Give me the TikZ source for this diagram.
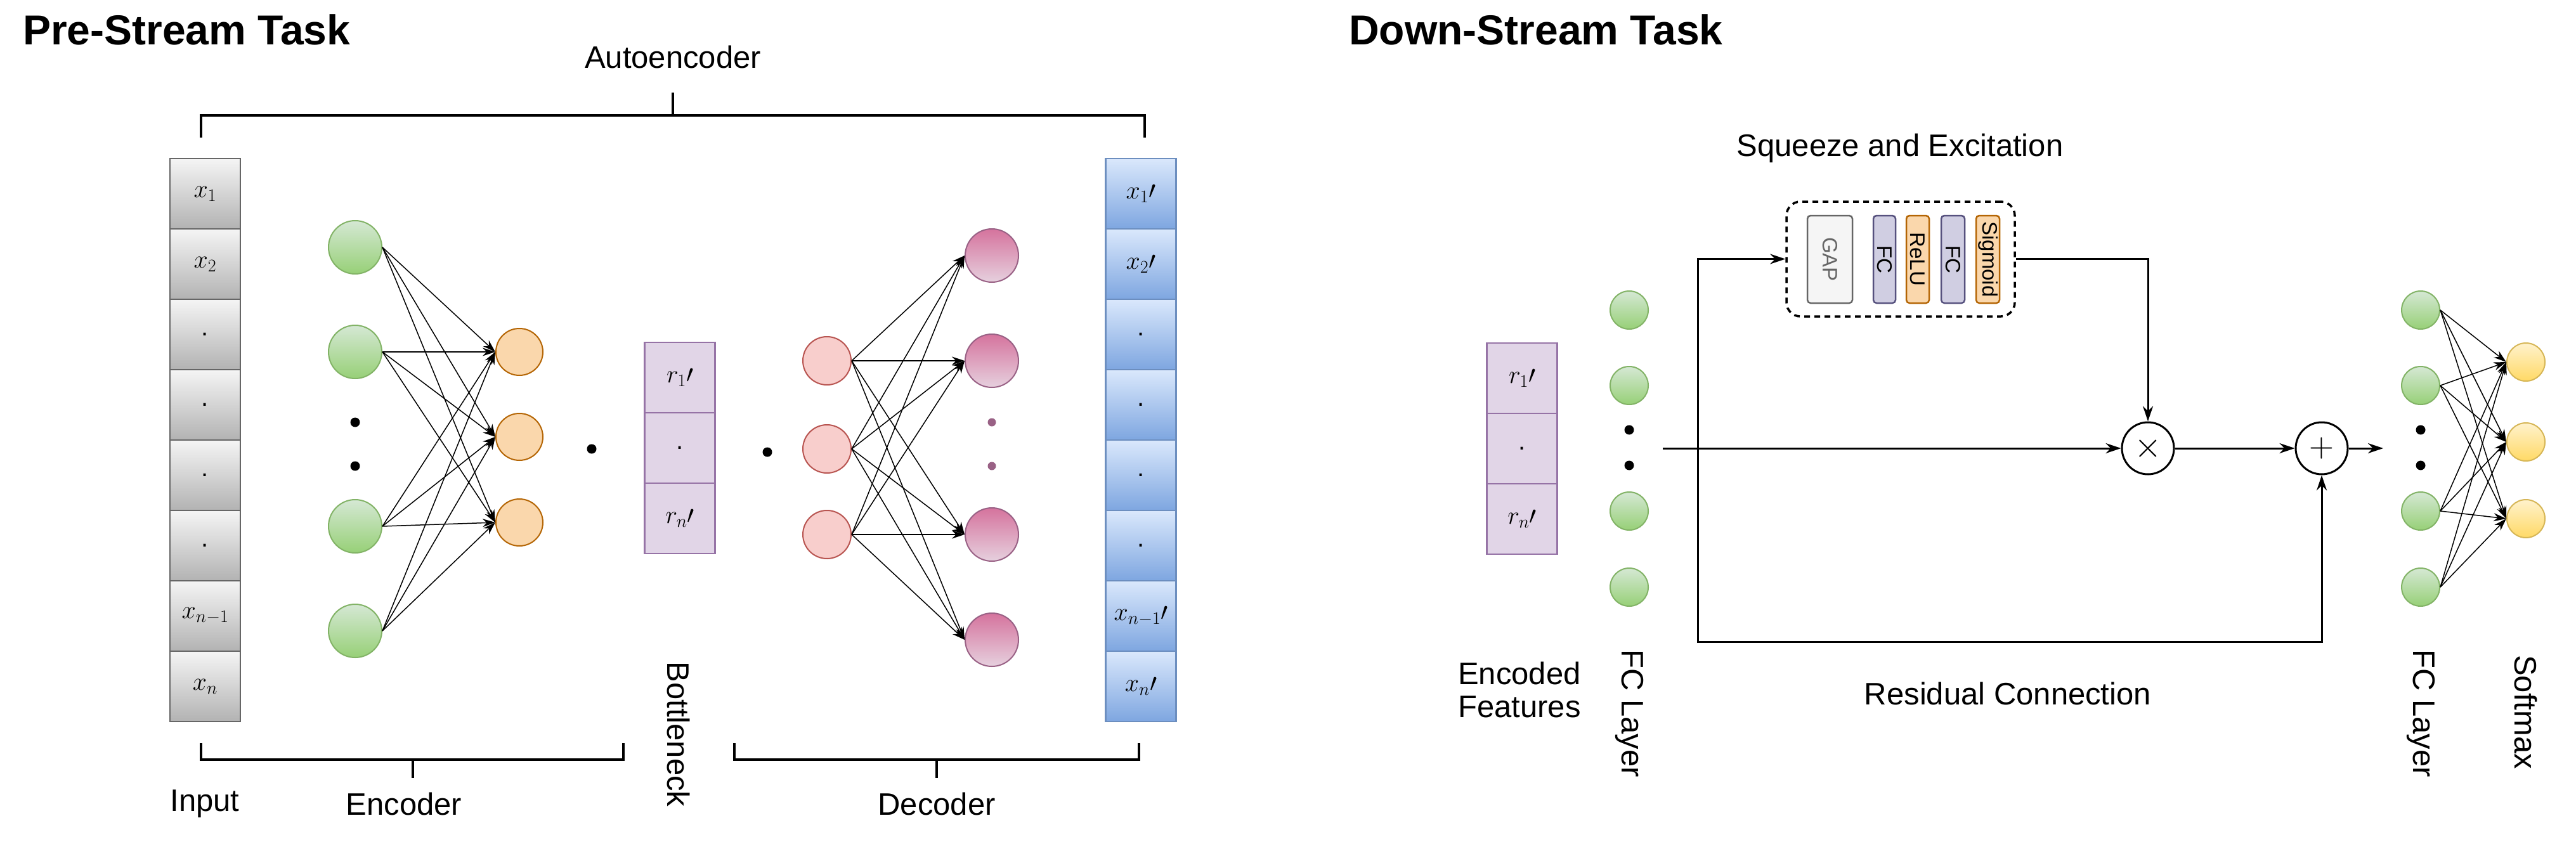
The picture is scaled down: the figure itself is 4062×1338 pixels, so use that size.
\RequirePackage{fix-cm}
\documentclass[tikz,border=0pt]{standalone}
\usepackage{fontspec}
\setmainfont{Liberation Sans}
\usetikzlibrary{arrows.meta}
\definecolor{gS}{HTML}{82B366}\definecolor{gT}{HTML}{D5E8D4}\definecolor{gB}{HTML}{97D077}
\definecolor{oF}{HTML}{FAD7AC}\definecolor{oS}{HTML}{B46504}
\definecolor{pF}{HTML}{F8CECC}\definecolor{pS}{HTML}{B85450}
\definecolor{mT}{HTML}{D5739D}\definecolor{mB}{HTML}{E6D0DE}\definecolor{mS}{HTML}{996185}
\definecolor{vF}{HTML}{E1D5E7}\definecolor{vS}{HTML}{9673A6}
\definecolor{bT}{HTML}{DAE8FC}\definecolor{bB}{HTML}{7EA6E0}\definecolor{bS}{HTML}{6C8EBF}
\definecolor{fF}{HTML}{D0CEE2}\definecolor{fS}{HTML}{56517E}
\definecolor{yT}{HTML}{FFF2CC}\definecolor{yB}{HTML}{FFD966}\definecolor{yS}{HTML}{D6B656}
\tikzset{
 lbl/.style={font=\fontsize{49}{56}\selectfont, inner sep=0},
 ttl/.style={font=\fontsize{66}{76}\selectfont\bfseries, inner sep=0, anchor=west},
 neur/.style={circle, inner sep=0, line width=2pt},
 green/.style={neur, minimum size=84pt, draw=gS, top color=gT, bottom color=gB},
 sgreen/.style={neur, minimum size=60pt, draw=gS, top color=gT, bottom color=gB},
 orange/.style={neur, minimum size=74pt, draw=oS, fill=oF},
 pink/.style={neur, minimum size=76pt, draw=pS, fill=pF},
 mag/.style={neur, minimum size=84pt, draw=mS, top color=mT, bottom color=mB},
 yel/.style={neur, minimum size=60pt, draw=yS, top color=yT, bottom color=yB},
 cell/.style={minimum width=111pt, minimum height=111pt, inner sep=0, line width=2.5pt, font=\fontsize{40}{48}\selectfont},
 incell/.style={cell, draw=black!60, top color=black!4, bottom color=black!30},
 outcell/.style={cell, draw=bS, top color=bT, bottom color=bB},
 vcell/.style={cell, draw=vS, fill=vF},
 dot/.style={circle, fill=black, inner sep=0, minimum size=15pt},
 pdot/.style={circle, fill=mS, inner sep=0, minimum size=13pt},
 edge/.style={line width=1.5pt, -{Stealth[length=20pt,width=13pt]}},
 conn/.style={line width=3pt, -{Stealth[length=24pt,width=16pt]}},
 brk/.style={line width=4.5pt},
 sebox/.style={rounded corners=5pt, line width=2.5pt, minimum height=138pt, inner sep=0},
 rot/.style={rotate=-90, font=\fontsize{33}{38}\selectfont, inner sep=0},
}
\begin{document}
\begin{tikzpicture}[x=1pt,y=-1pt]
\useasboundingbox (0,0) rectangle (4062,1338);
% ---------- Left
\node[ttl] (t1) at (36,47) {Pre-Stream Task};
\node[lbl] (ae) at (1061,90) {Autoencoder};
\draw[brk] (317,217) -- (317,182) -- (1805,182) -- (1805,217);
\draw[brk] (1061,182) -- (1061,146);
\foreach \i/\t in {1/{$x_1$},2/{$x_2$},3/{.},4/{.},5/{.},6/{.},7/{$x_{n-1}$},8/{$x_n$}}{
  \node[incell] (in\i) at (323.5,{305.5+111*(\i-1)}) {\t};}
\foreach \i/\t in {1/{$x_1{\prime}$},2/{$x_2{\prime}$},3/{.},4/{.},5/{.},6/{.},7/{$x_{n-1}{\prime}$},8/{$x_n{\prime}$}}{
  \node[outcell] (out\i) at (1799,{305.5+111*(\i-1)}) {\t};}
\foreach \i/\y in {1/390,2/555,3/830,4/995}{\node[green] (e\i) at (560,\y) {};}
\node[dot] (ed1) at (560,666) {};\node[dot] (ed2) at (560,735) {};
\foreach \i/\y in {1/555,2/689,3/824}{\node[orange] (o\i) at (819,\y) {};}
\node[dot] (d1) at (933,708) {};
\foreach \i/\t in {1/{$r_1{\prime}$},2/{.},3/{$r_n{\prime}$}}{
  \node[vcell] (bn\i) at (1072,{595.5+111*(\i-1)}) {\t};}
\node[dot] (d2) at (1210,713) {};
\foreach \i/\y in {1/569,2/708,3/843}{\node[pink] (p\i) at (1304,\y) {};}
\foreach \i/\y in {1/403,2/569,3/843,4/1009}{\node[mag] (m\i) at (1564,\y) {};}
\node[pdot] (md1) at (1564,666) {};\node[pdot] (md2) at (1564,735) {};
\foreach \a in {1,...,4}{\foreach \b in {1,2,3}{\draw[edge] (e\a.east) -- (o\b.west);}}
\foreach \a in {1,2,3}{\foreach \b in {1,...,4}{\draw[edge] (p\a.east) -- (m\b.west);}}
\draw[brk] (317,1172) -- (317,1198) -- (983,1198) -- (983,1172);
\draw[brk] (651,1198) -- (651,1227);
\draw[brk] (1158,1172) -- (1158,1198) -- (1796,1198) -- (1796,1172);
\draw[brk] (1477,1198) -- (1477,1227);
\node[lbl] (inl) at (323,1268) {Input};
\node[lbl] (enl) at (637,1268) {Encoder};
\node[lbl] (del) at (1477,1268) {Decoder};
\node[lbl, rotate=-90] (bnl) at (1070,1158) {Bottleneck};
% ---------- Right
\node[ttl] (t2) at (2127,47) {Down-Stream Task};
\node[lbl] (sel) at (2996,234) {Squeeze and Excitation};
\node[draw, dash pattern=on 9pt off 7pt, line width=3.5pt, rounded corners=22pt, minimum width=360pt, minimum height=181pt, inner sep=0] (se) at (2997,408.5) {};
\node[sebox, draw=black!60, fill=black!4, minimum width=71pt] (gap) at (2885.5,409) {};
\node[rot, text=black!60] at (gap) {GAP};
\node[sebox, draw=fS, fill=fF, minimum width=35pt] (fc1) at (2971.5,409) {};
\node[rot] at (fc1) {FC};
\node[sebox, draw=oS, fill=oF, minimum width=36pt] (relu) at (3024,409) {};
\node[rot] at (relu) {ReLU};
\node[sebox, draw=fS, fill=fF, minimum width=37pt] (fc2) at (3079.5,409) {};
\node[rot] at (fc2) {FC};
\node[sebox, draw=oS, fill=oF, minimum width=37pt] (sig) at (3134.5,409) {};
\node[rot] at (sig) {Sigmoid};
\foreach \i/\t in {1/{$r_1{\prime}$},2/{.},3/{$r_n{\prime}$}}{
  \node[vcell] (ef\i) at (2400,{596.5+111*(\i-1)}) {\t};}
\foreach \i/\y in {1/489,2/608,3/806,4/926}{\node[sgreen] (f\i) at (2569,\y) {};}
\node[dot] (fd1) at (2569,678) {};\node[dot] (fd2) at (2569,734) {};
\foreach \i/\y in {1/489,2/608,3/806,4/926}{\node[sgreen] (g\i) at (3817,\y) {};}
\node[dot] (gd1) at (3817,678) {};\node[dot] (gd2) at (3817,734) {};
\foreach \i/\y in {1/571,2/697,3/818}{\node[yel] (s\i) at (3983,\y) {};}
\foreach \a in {1,...,4}{\foreach \b in {1,2,3}{\draw[edge] (g\a.east) -- (s\b.west);}}
\node[circle, draw, line width=3pt, minimum size=82pt, inner sep=0, font=\fontsize{56}{64}\selectfont] (mul) at (3387,707) {$\times$};
\node[circle, draw, line width=3pt, minimum size=82pt, inner sep=0, font=\fontsize{54}{62}\selectfont] (add) at (3661,707) {$+$};
\coordinate (st) at (2622,707);
\coordinate (sp) at (2677,707);
\coordinate (out) at (3758,707);
\draw[conn] (st) -- (mul.west);
\draw[conn] (mul.east) -- (add.west);
\draw[conn] (add.east) -- (out);
\draw[conn] (sp) |- (se.west);
\draw[conn] (se.east) -| (mul.north);
\draw[conn] (sp) -- (2677,1012) -| (add.south);
\node[lbl] (efl) at (2396,1094) {\begin{tabular}{@{}c@{}}Encoded\\[-4pt]Features\end{tabular}};
\node[lbl, rotate=-90] (fcl1) at (2569,1125) {FC Layer};
\node[lbl] (res) at (3166,1094) {Residual Connection};
\node[lbl, rotate=-90] (fcl2) at (3817,1125) {FC Layer};
\node[lbl, rotate=-90] (sml) at (3983,1123) {Softmax};
\end{tikzpicture}
\end{document}
